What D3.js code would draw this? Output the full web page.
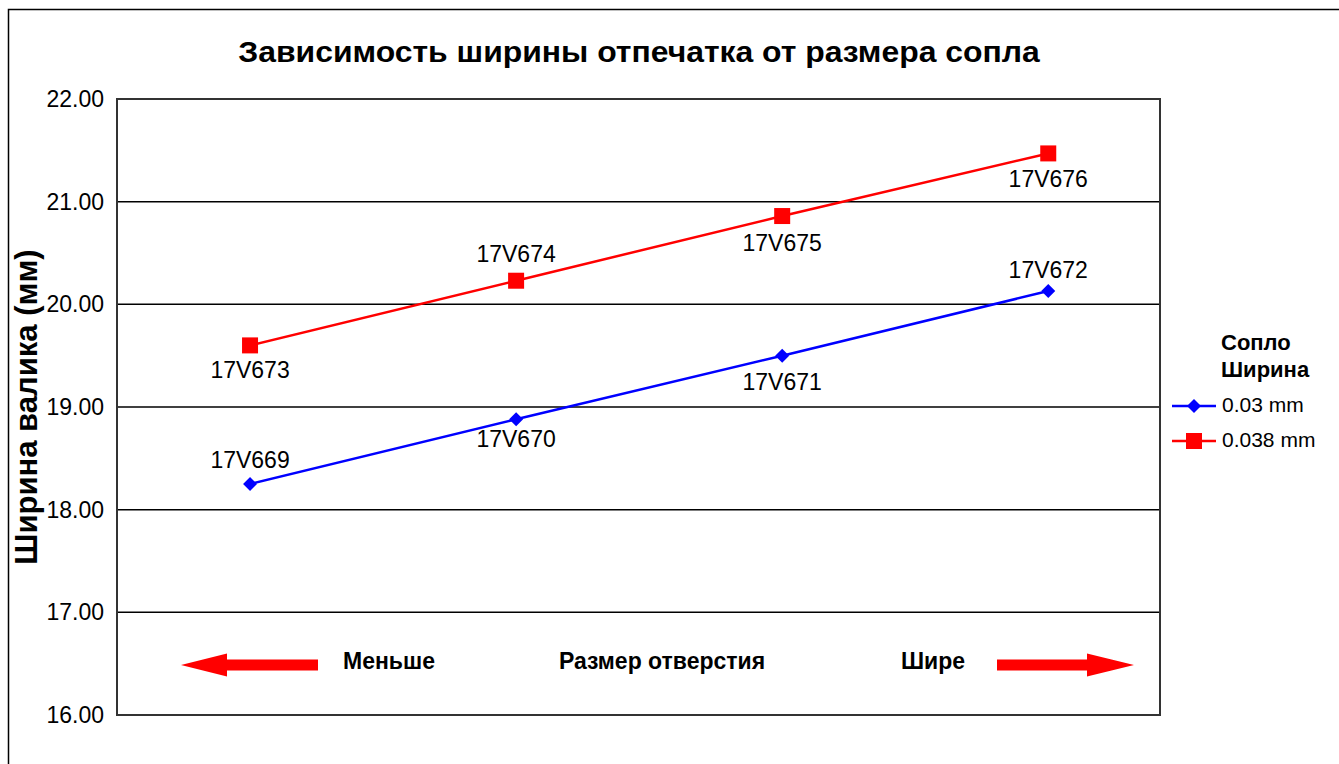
<!DOCTYPE html>
<html>
<head>
<meta charset="utf-8">
<script src="https://cdn.jsdelivr.net/npm/d3@7"></script>
<style>
  html, body { margin: 0; padding: 0; background: #fff; }
  svg { display: block; font-family: "Liberation Sans", Arial, Helvetica, sans-serif; }
</style>
</head>
<body>
<svg id="chart" width="1339" height="764"></svg>
<script>
// Nozzle positions along the x axis (ordered from narrow to wide orifice)
const positions = [1, 2, 3, 4];

// Bead width (mm) for the 0.03 mm nozzle series
const seriesSmall = [18.25, 18.88, 19.50, 20.13];
const nozzlesSmall = ["17V669", "17V670", "17V671", "17V672"];

// Bead width (mm) for the 0.038 mm nozzle series
const seriesLarge = [19.60, 20.23, 20.86, 21.47];
const nozzlesLarge = ["17V673", "17V674", "17V675", "17V676"];

const seriesNames = ["0.03 mm", "0.038 mm"];
const yTicks = [16, 17, 18, 19, 20, 21, 22];

const titleText = "Зависимость ширины отпечатка от размера сопла";
const yAxisTitle = "Ширина валика (мм)";
const legendTitle = ["Сопло", "Ширина"];
const directionLabels = ["Меньше", "Размер отверстия", "Шире"];

const svg = d3.select("#chart");

// Chart frame (runs off the bottom and right of the page)
svg.append("rect")
  .attr("x", 8.5).attr("y", 9.5)
  .attr("width", 1400).attr("height", 800)
  .attr("fill", "none").attr("stroke", "#000").attr("stroke-width", 1.5);

const plot = { left: 117, top: 99, right: 1160, bottom: 715 };

const x = d3.scaleLinear().domain([0.5, 4.42]).range([plot.left, plot.right]);
const y = d3.scaleLinear().domain([16, 22]).range([plot.bottom, plot.top]);

// Title (slightly widened face)
svg.append("text")
  .attr("transform", "translate(639,62) scale(1.1,1)")
  .attr("text-anchor", "middle")
  .attr("font-size", 29).attr("font-weight", "bold")
  .text(titleText);

// Horizontal gridlines
svg.append("g")
  .selectAll("line")
  .data(yTicks)
  .join("line")
  .attr("x1", plot.left).attr("x2", plot.right)
  .attr("y1", d => y(d)).attr("y2", d => y(d))
  .attr("stroke", "#000").attr("stroke-width", 1.5);

// Plot area border
svg.append("rect")
  .attr("x", plot.left).attr("y", plot.top)
  .attr("width", plot.right - plot.left).attr("height", plot.bottom - plot.top)
  .attr("fill", "none").attr("stroke", "#333").attr("stroke-width", 2);

// Y axis labels
const yAxis = d3.axisLeft(y).tickValues(yTicks).tickFormat(d3.format(".2f")).tickSize(0).tickPadding(13);
const yAxisG = svg.append("g").attr("transform", `translate(${plot.left},0)`).call(yAxis);
yAxisG.select(".domain").remove();
yAxisG.selectAll("text")
  .attr("font-size", 23)
  .attr("font-family", "Liberation Sans, Arial, sans-serif")
  .attr("fill", "#000");

// Y axis title
svg.append("text")
  .attr("transform", "translate(37,407) rotate(-90)")
  .attr("text-anchor", "middle")
  .attr("font-size", 31).attr("font-weight", "bold")
  .text(yAxisTitle);

const line = d3.line().x((d, i) => x(positions[i])).y(d => y(d));

// 0.03 mm series
svg.append("path")
  .datum(seriesSmall)
  .attr("d", line)
  .attr("fill", "none").attr("stroke", "#0000ff").attr("stroke-width", 2.5);

const diamond = (cx, cy, r) => `M${cx},${cy - r}L${cx + r},${cy}L${cx},${cy + r}L${cx - r},${cy}Z`;

svg.append("g")
  .selectAll("path")
  .data(seriesSmall)
  .join("path")
  .attr("d", (d, i) => diamond(x(positions[i]), y(d), 7))
  .attr("fill", "#0000ff");

// 0.038 mm series
svg.append("path")
  .datum(seriesLarge)
  .attr("d", line)
  .attr("fill", "none").attr("stroke", "#ff0000").attr("stroke-width", 2.5);

svg.append("g")
  .selectAll("rect")
  .data(seriesLarge)
  .join("rect")
  .attr("x", (d, i) => x(positions[i]) - 8)
  .attr("y", d => y(d) - 8)
  .attr("width", 16).attr("height", 16)
  .attr("fill", "#ff0000");

// Nozzle labels: offset above (-) or below (+) the marker
const smallOffsets = [-22, 22, 28, -19];
const largeOffsets = [27, -25, 29, 28];

function labelSeries(values, names, offsets) {
  svg.append("g")
    .selectAll("text")
    .data(values)
    .join("text")
    .attr("x", (d, i) => x(positions[i]))
    .attr("y", (d, i) => y(d) + offsets[i])
    .attr("text-anchor", "middle")
    .attr("dominant-baseline", "middle")
    .attr("font-size", 23)
    .text((d, i) => names[i]);
}
labelSeries(seriesSmall, nozzlesSmall, smallOffsets);
labelSeries(seriesLarge, nozzlesLarge, largeOffsets);

// Legend
const legend = svg.append("g").attr("transform", "translate(1172,0)");
legend.selectAll("text.title")
  .data(legendTitle)
  .join("text")
  .attr("class", "title")
  .attr("x", 49).attr("y", (d, i) => 350 + i * 27)
  .attr("font-size", 22).attr("font-weight", "bold")
  .text(d => d);

const legendRows = [
  { name: seriesNames[0], color: "#0000ff", shape: "diamond", cy: 406 },
  { name: seriesNames[1], color: "#ff0000", shape: "square", cy: 441 }
];
legendRows.forEach(r => {
  legend.append("line")
    .attr("x1", 0).attr("x2", 44)
    .attr("y1", r.cy).attr("y2", r.cy)
    .attr("stroke", r.color).attr("stroke-width", 2.5);
  if (r.shape === "diamond") {
    legend.append("path").attr("d", diamond(22, r.cy, 7)).attr("fill", r.color);
  } else {
    legend.append("rect").attr("x", 14).attr("y", r.cy - 8).attr("width", 16).attr("height", 16).attr("fill", r.color);
  }
  legend.append("text")
    .attr("x", 50).attr("y", r.cy)
    .attr("dominant-baseline", "middle")
    .attr("font-size", 21)
    .text(r.name);
});

// Direction arrows and captions
const arrowY = 665;
function arrow(tailX, baseX, tipX) {
  const shaft = 5.5, head = 11.5;
  return `M${tailX},${arrowY - shaft}L${baseX},${arrowY - shaft}L${baseX},${arrowY - head}` +
         `L${tipX},${arrowY}L${baseX},${arrowY + head}L${baseX},${arrowY + shaft}L${tailX},${arrowY + shaft}Z`;
}
svg.append("path").attr("d", arrow(318, 227, 181)).attr("fill", "#ff0000");
svg.append("path").attr("d", arrow(997, 1087, 1134)).attr("fill", "#ff0000");

const captionX = [389, 662, 933];
svg.append("g")
  .selectAll("text")
  .data(directionLabels)
  .join("text")
  .attr("x", (d, i) => captionX[i])
  .attr("y", 663)
  .attr("text-anchor", "middle")
  .attr("dominant-baseline", "middle")
  .attr("font-size", 23).attr("font-weight", "bold")
  .text(d => d);
</script>
</body>
</html>
